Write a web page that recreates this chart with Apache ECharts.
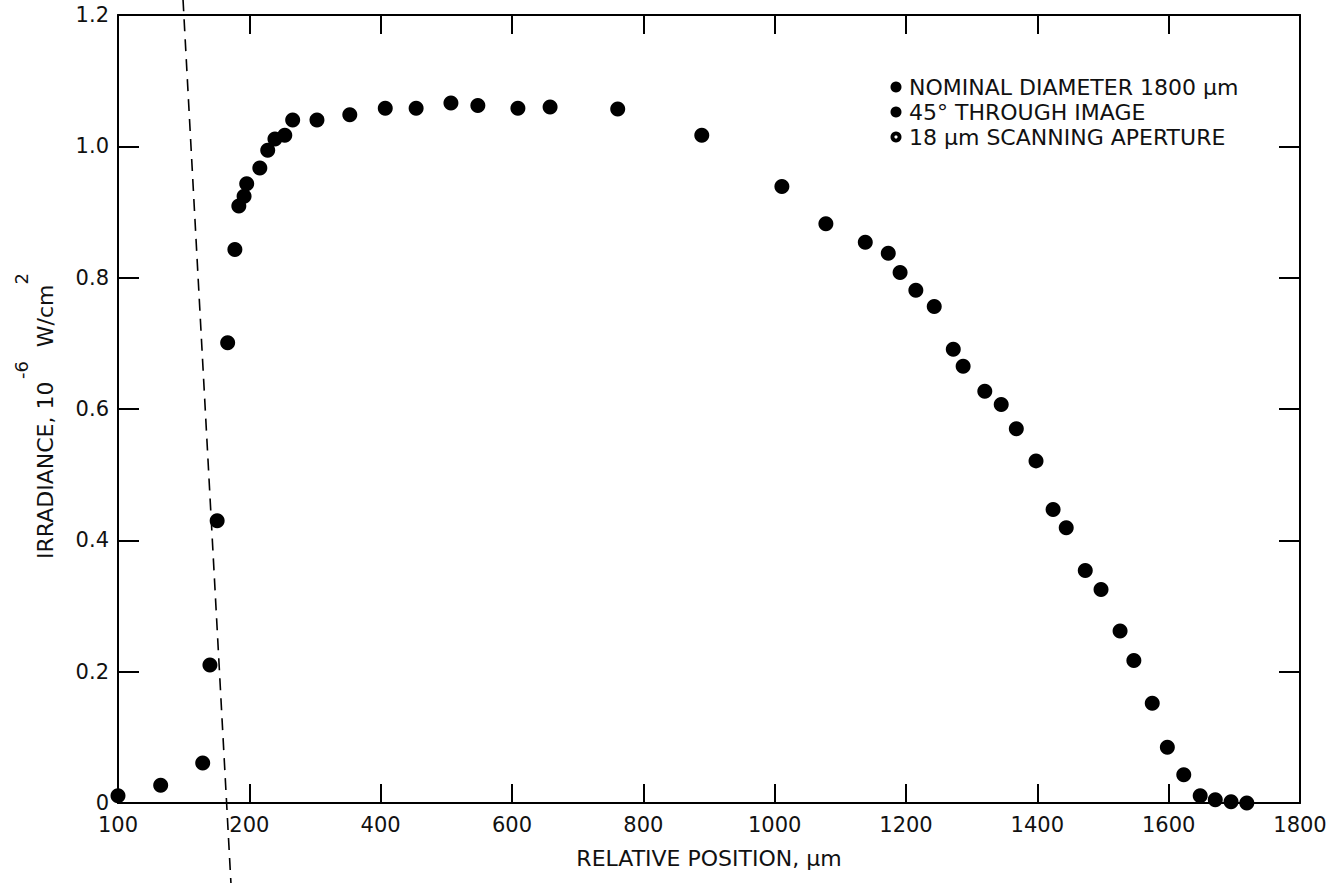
<!DOCTYPE html>
<html><head><meta charset="utf-8">
<script src="https://cdn.jsdelivr.net/npm/echarts@6/dist/echarts.min.js"></script>
<style>html,body{margin:0;padding:0;background:#fff}#c{width:1328px;height:883px}</style>
</head><body><div id="c"></div>
<script>
// Relative position (µm, linear axis coordinate) and irradiance (10^-6 W/cm^2)
const positions = [0, 65, 129, 140, 151, 167, 178, 184, 192, 196, 216, 228, 239, 254, 266, 303, 353, 407, 454, 507, 548, 609, 658, 761, 889, 1011, 1078, 1138, 1173, 1191, 1215, 1243, 1272, 1287, 1320, 1345, 1368, 1398, 1424, 1444, 1473, 1497, 1526, 1547, 1575, 1598, 1623, 1648, 1671, 1695, 1719];
const irradiance = [0.011, 0.027, 0.061, 0.210, 0.430, 0.701, 0.843, 0.909, 0.924, 0.943, 0.967, 0.994, 1.011, 1.017, 1.040, 1.040, 1.048, 1.058, 1.058, 1.066, 1.062, 1.058, 1.060, 1.057, 1.017, 0.939, 0.882, 0.854, 0.837, 0.808, 0.781, 0.756, 0.691, 0.665, 0.627, 0.607, 0.570, 0.521, 0.447, 0.419, 0.354, 0.325, 0.262, 0.217, 0.152, 0.085, 0.043, 0.011, 0.005, 0.002, 0.000];

// Dashed reference line endpoints (data units, extends beyond the frame)
const refLineX = [99, 172];
const refLineY = [1.224, -0.122];

// Tick labels
const xTickLabels = ['100', '200', '400', '600', '800', '1000', '1200', '1400', '1600', '1800'];
const yTickLabels = ['0', '0.2', '0.4', '0.6', '0.8', '1.0', '1.2'];

const legendLabels = ['NOMINAL DIAMETER 1800 \u03bcm', '45\u00b0 THROUGH IMAGE', '18 \u03bcm SCANNING APERTURE'];

const FONT = 'DejaVu Sans';
const INK = '#111';

const chart = echarts.init(document.getElementById('c'), null, {renderer: 'svg'});

const xBase = {
  type: 'value', min: 0, max: 1800, interval: 200,
  axisLine: {show: true, onZero: false, lineStyle: {color: '#000', width: 2}},
  axisTick: {show: true, inside: true, length: 19, lineStyle: {color: '#000', width: 2}},
  splitLine: {show: false}
};
const yBase = {
  type: 'value', min: 0, max: 1.2, interval: 0.2,
  axisLine: {show: true, onZero: false, lineStyle: {color: '#000', width: 2}},
  axisTick: {show: true, inside: true, length: 21, lineStyle: {color: '#000', width: 2}},
  splitLine: {show: false}
};

const pairs = positions.map((x, i) => [x, irradiance[i]]);
const refPairs = refLineX.map((x, i) => [x, refLineY[i]]);

const legendGraphics = [];
legendLabels.forEach((t, i) => {
  const cy = 87 + i * 25;
  legendGraphics.push({type: 'circle', shape: {cx: 896, cy: cy, r: 5.5}, style: {fill: '#000'}});
  if (i === 2) legendGraphics.push({type: 'circle', shape: {cx: 896, cy: cy, r: 1.6}, style: {fill: '#fff'}});
  legendGraphics.push({type: 'text', x: 909, y: cy, style: {text: t, fill: INK, font: '22px "' + FONT + '"', textVerticalAlign: 'middle', textAlign: 'left'}});
});

chart.setOption({
  animation: false,
  backgroundColor: '#fff',
  grid: {left: 118, right: 28, top: 15, bottom: 80, containLabel: false, outerBoundsMode: 'none'},
  xAxis: [
    Object.assign({}, xBase, {
      position: 'bottom',
      name: 'RELATIVE POSITION, \u03bcm', nameLocation: 'middle', nameGap: 44, nameMoveOverlap: false,
      nameTextStyle: {fontFamily: FONT, fontSize: 22, color: INK},
      axisLabel: {show: true, margin: 11, fontFamily: FONT, fontSize: 21, color: INK, showMinLabel: true, showMaxLabel: true,
        formatter: v => xTickLabels[Math.round(v / 200)]}
    }),
    Object.assign({}, xBase, {position: 'top', axisLabel: {show: false}})
  ],
  yAxis: [
    Object.assign({}, yBase, {
      position: 'left',
      name: '{b|IRRADIANCE, 10}{g| }{s|-6}{b|  W/cm}{s|2}',
      nameLocation: 'middle', nameRotate: 90, nameGap: 62, nameMoveOverlap: false,
      nameTextStyle: {
        color: INK, fontFamily: FONT, padding: [0, 14, 0, 0],
        rich: {
          b: {fontFamily: FONT, fontSize: 22, lineHeight: 22, verticalAlign: 'bottom', color: INK},
          s: {fontFamily: FONT, fontSize: 18, lineHeight: 18, verticalAlign: 'top', color: INK},
          g: {fontFamily: FONT, fontSize: 8, lineHeight: 44, color: INK}
        }
      },
      axisLabel: {show: true, margin: 9, fontFamily: FONT, fontSize: 21, color: INK, showMinLabel: true, showMaxLabel: true,
        formatter: v => yTickLabels[Math.round(v / 0.2)]}
    }),
    Object.assign({}, yBase, {position: 'right', axisLabel: {show: false}})
  ],
  series: [
    {
      type: 'scatter', xAxisIndex: 0, yAxisIndex: 0, data: pairs,
      symbol: 'circle', symbolSize: 15, itemStyle: {color: '#000', opacity: 1}, silent: true
    },
    {
      type: 'line', xAxisIndex: 0, yAxisIndex: 0, data: refPairs, clip: false,
      showSymbol: false, symbol: 'none', silent: true,
      lineStyle: {color: '#000', width: 1.6, type: [12, 8]}
    }
  ],
  graphic: legendGraphics
});
</script>
</body></html>
